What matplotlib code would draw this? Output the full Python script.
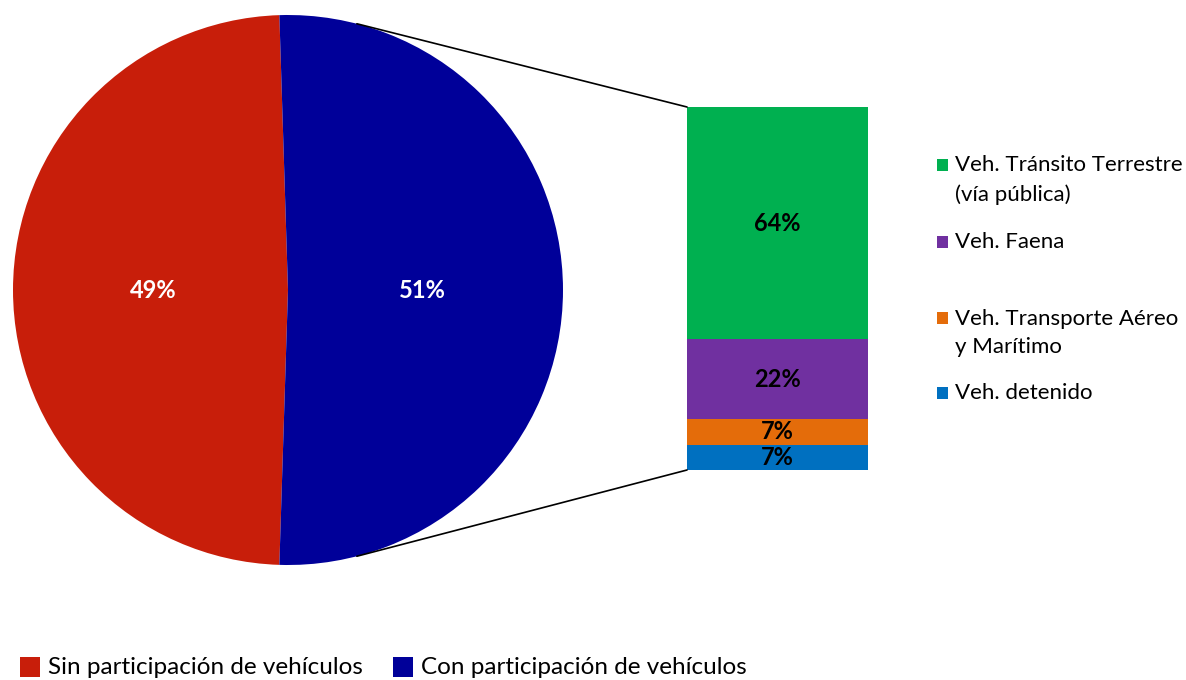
import numpy as np
import matplotlib.pyplot as plt
from matplotlib.patches import ConnectionPatch, Rectangle

plt.rcParams['font.family'] = ['Lato', 'DejaVu Sans']

# pie data
pie_labels = ['Sin participación de vehículos', 'Con participación de vehículos']
pie_values = [49, 51]
pie_colors = ['#C81E0A', '#000099']

# breakdown of "Con participación" (bottom to top)
bar_labels = ['Veh. detenido', 'Veh. Transporte Aéreo\ny Marítimo', 'Veh. Faena',
              'Veh. Tránsito Terrestre\n(vía pública)']
bar_values = [7, 7, 22, 64]
bar_colors = ['#0070C0', '#E46C0A', '#7030A0', '#00B050']

W, H = 1186, 680
fig = plt.figure(figsize=(W / 100, H / 100), dpi=100)

def px_box(x0, y0, x1, y1):
    return [x0 / W, 1 - y1 / H, (x1 - x0) / W, (y1 - y0) / H]

# pie
ax1 = fig.add_axes(px_box(13, 15, 563, 565))
wedges, _, autot = ax1.pie(pie_values, colors=pie_colors, startangle=268.2,
                           counterclock=False, autopct='%d%%', pctdistance=0.49,
                           radius=1, wedgeprops=dict(linewidth=0))
for t in autot:
    t.set_color('white')
    t.set_fontsize(17)
    t.set_fontweight('bold')
ax1.set_xlim(-1, 1)
ax1.set_ylim(-1, 1)
ax1.set_aspect('equal')
ax1.axis('off')

# stacked bar
ax2 = fig.add_axes(px_box(687, 107, 868, 470))
bottom = 0
for v, c in zip(bar_values, bar_colors):
    ax2.bar(0, v, bottom=bottom, width=1, color=c, linewidth=0)
    ax2.text(0, bottom + v / 2, '%d%%' % v, ha='center', va='center',
             fontsize=17, fontweight='bold', color='black')
    bottom += v
ax2.set_xlim(-0.5, 0.5)
ax2.set_ylim(0, sum(bar_values))
ax2.axis('off')

# connecting lines
theta = np.deg2rad(75.5)
for sgn, yb in [(1, sum(bar_values)), (-1, 0)]:
    con = ConnectionPatch(xyA=(np.cos(theta), sgn * np.sin(theta)), coordsA=ax1.transData,
                          xyB=(-0.5, yb), coordsB=ax2.transData, color='black', linewidth=1.2)
    fig.add_artist(con)

# right legend (top to bottom)
leg_y = [180, 242, 333, 393]
for lab, c, y in zip(bar_labels[::-1], bar_colors[::-1], leg_y):
    n = lab.count('\n')
    ytop = y - 15 * n
    fig.add_artist(Rectangle((937 / W, 1 - (ytop + 6) / H), 11 / W, 12 / H,
                             transform=fig.transFigure, color=c, linewidth=0))
    fig.text(955 / W, 1 - y / H, lab, ha='left', va='center', fontsize=16,
             linespacing=1.55)

# bottom legend
for lab, c, x in zip(pie_labels, pie_colors, [20, 393]):
    fig.add_artist(Rectangle((x / W, 1 - 677 / H), 20 / W, 20 / H,
                             transform=fig.transFigure, color=c, linewidth=0))
    fig.text((x + 28) / W, 1 - 667 / H, lab, ha='left', va='center', fontsize=17.5)

fig.savefig('out.png', dpi=100)
